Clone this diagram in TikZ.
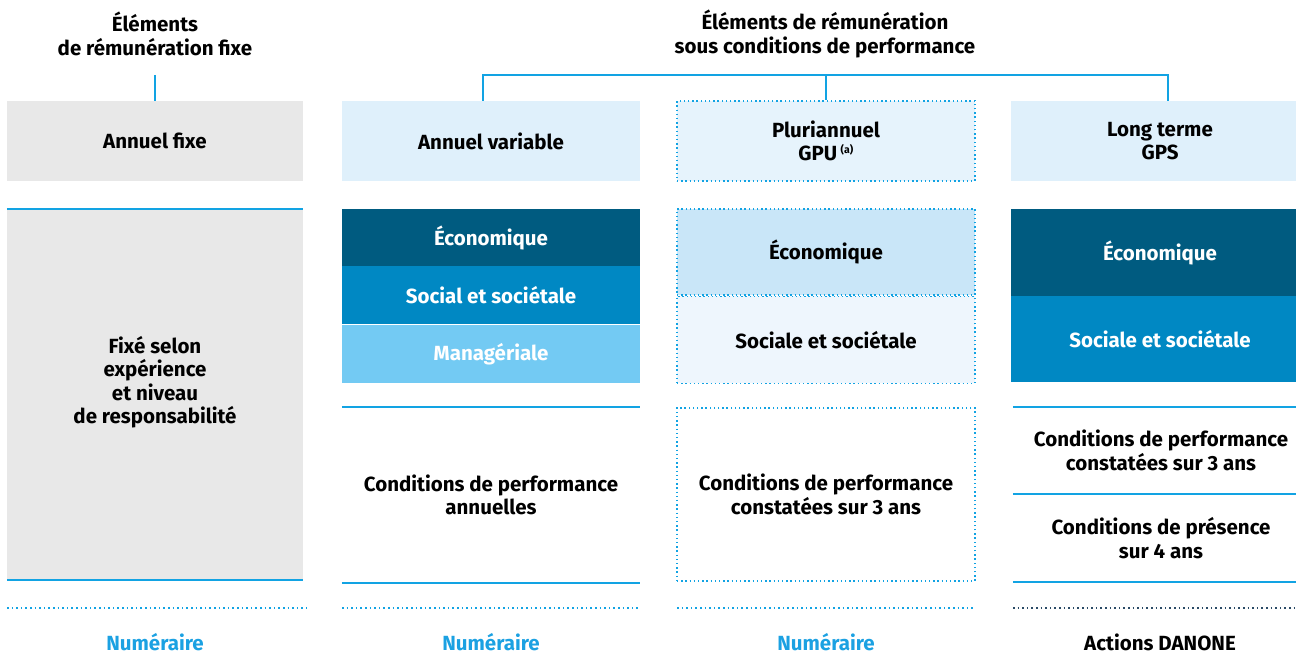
\documentclass[tikz,border=0pt]{standalone}
\usepackage{fontspec}
\setmainfont{Fira Sans}
\usepackage{xcolor}
\usepackage{tikz}
\usetikzlibrary{positioning}
\definecolor{linebl}{HTML}{12A3E3}
\definecolor{numblue}{HTML}{1BA1E2}
\definecolor{hdrblue}{HTML}{DFF0FB}
\definecolor{fixgray}{HTML}{E8E8E8}
\definecolor{ecodark}{HTML}{005B80}
\definecolor{socmid}{HTML}{0088C3}
\definecolor{manlight}{HTML}{73CAF3}
\definecolor{ecopale}{HTML}{C9E6F8}
\definecolor{socpale}{HTML}{EEF6FD}
\definecolor{plupale}{HTML}{E6F3FC}
\definecolor{darkdot}{HTML}{2A4A66}
\newcommand\txtfont{\fontsize{20.5}{23.5}\selectfont\bfseries}
\tikzset{
cell/.style={
  rectangle,
  inner sep=0pt,
  align=center,
  font=\txtfont,
  text=black
},
hdr/.style={cell, fill=hdrblue, minimum width=298pt, minimum height=80pt},
band/.style={cell, minimum width=298pt, text=white},
dotbox/.style={draw=linebl, line width=1.4pt, dash pattern=on 1.4pt off 2.8pt},
rule/.style={draw=linebl, line width=2pt},
dotrule/.style={line width=1.6pt, dash pattern=on 1.6pt off 3pt},
link/.style={draw=linebl, line width=2pt},
%pay/.style={cell, text=numblue},
}

\begin{document}
\begin{tikzpicture}[x=1pt,y=-1pt]
\useasboundingbox (0,0) rectangle (1296,668);

% the headings
\node[cell] (hfix) at (155,34) {Éléments\\de rémunération fixe};
\node[cell] (hperf) at (825,34) {Éléments de rémunération\\sous conditions de performance};

% first row
\node[hdr, fill=fixgray, minimum width=296pt] (fix) at (155,141) {Annuel fixe};
\node[hdr] (var) at (491,141) {Annuel variable};
\node[hdr, fill=plupale, dotbox] (plu) at (826,141) {Pluriannuel\\GPU\,\textsuperscript{\fontsize{10.5}{10}\selectfont(a)}};
\node[hdr] (lt) at (1160,141) {Long terme\\GPS};

% the connectors
\coordinate (tfix) at (155,75);
\coordinate (bar) at (826,75);
\draw[link] (tfix) -- (fix);
\draw[link] ([xshift=-8pt]var.north) |- (bar) -| ([xshift=8pt]lt.north);
\draw[link] (bar) -- (plu);

% fixed column
\node[cell, fill=fixgray, minimum width=296pt, minimum height=371pt] (fixbody) at (155,394.5) {};
\node[cell] (fixtxt) at (155,382) {Fixé selon\\expérience\\et niveau\\de responsabilité};
\draw[rule] (fixbody.north west) -- (fixbody.north east);
\draw[rule] (fixbody.south west) -- (fixbody.south east);

% annual variable column
\node[band, fill=ecodark, minimum height=57pt] (eco2) at (491,237.5) {Économique};
\node[band, fill=socmid, minimum height=58pt, below=0pt of eco2] (soc2) {Social et sociétale};
\node[band, fill=manlight, minimum height=58pt, below=0pt of soc2] (man2) {Managériale};
\node[cell, minimum width=298pt, minimum height=176pt] (cond2) at (491,495) {Conditions de performance\\annuelles};
\draw[rule] (cond2.north west) -- (cond2.north east);
\draw[rule] (cond2.south west) -- (cond2.south east);

% multi-year column
\node[band, fill=ecopale, text=black, dotbox, minimum height=86pt] (eco3) at (826,252) {Économique};
\node[band, fill=socpale, text=black, dotbox, minimum height=87pt, below=0pt of eco3] (soc3) {Sociale et sociétale};
\node[cell, dotbox, minimum width=298pt, minimum height=173pt] (cond3) at (826,494.5) {Conditions de performance\\constatées sur 3 ans};

% long term column
\node[band, fill=ecodark, minimum height=87pt] (eco4) at (1160,252.5) {Économique};
\node[band, fill=socmid, minimum height=86pt, below=0pt of eco4] (soc4) {Sociale et sociétale};
\node[cell, minimum width=296pt, minimum height=87pt] (perf4) at (1161,450.5) {Conditions de performance\\constatées sur 3 ans};
\node[cell, minimum width=296pt, minimum height=87pt, below=0pt of perf4] (pres4) {Conditions de présence\\sur 4 ans};
\draw[rule] (perf4.north west) -- (perf4.north east);
\draw[rule] (perf4.south west) -- (perf4.south east);
\draw[rule] (pres4.south west) -- (pres4.south east);

% the payment rules
\foreach \xa/\xb in {7/307,342/640,677/975}
{
  \draw[dotrule, draw=linebl] (\xa,608) -- (\xb,608);
}
\draw[dotrule, draw=darkdot] (1013,608) -- (1300,608);

% payment types
\node[cell, text=numblue] (pay1) at (155,642) {Numéraire};
\node[cell, text=numblue] (pay2) at (491,642) {Numéraire};
\node[cell, text=numblue] (pay3) at (826,642) {Numéraire};
\node[cell] (pay4) at (1160,642) {Actions DANONE};
\end{tikzpicture}
\end{document}
